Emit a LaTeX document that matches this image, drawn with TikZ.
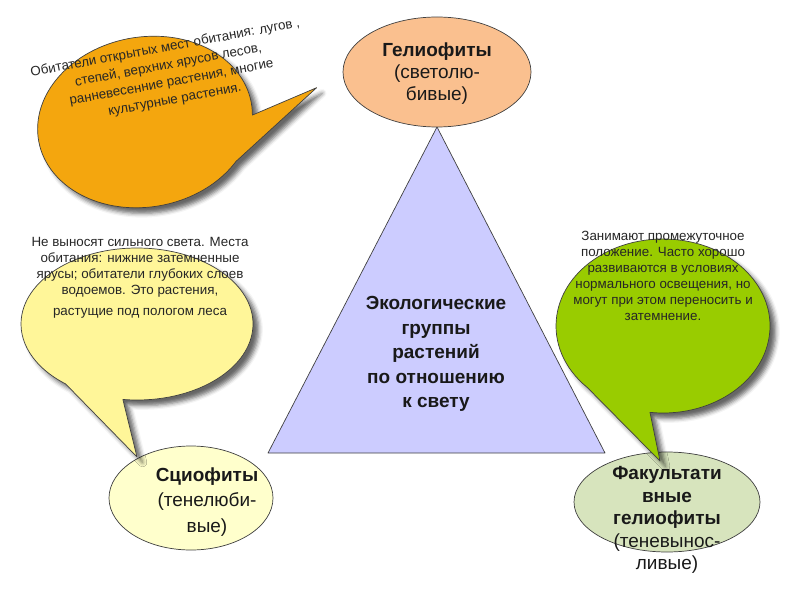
\documentclass[tikz,border=0pt]{standalone}
\usepackage{fontspec}
\setmainfont{Liberation Sans}
\usetikzlibrary{shadows.blur}
\definecolor{orangecall}{RGB}{244,166,14}
\definecolor{peach}{RGB}{250,192,143}
\definecolor{yellowcall}{RGB}{255,246,153}
\definecolor{cream}{RGB}{255,255,204}
\definecolor{greencall}{RGB}{153,204,0}
\definecolor{palegreen}{RGB}{215,228,189}
\definecolor{lavender}{RGB}{204,204,255}
\begin{document}
\begin{tikzpicture}[x=0.025cm, y=0.025cm, line join=round,
	outline/.style={draw=black!75, line width=0.5pt},
	callout/.style={outline, blur shadow={shadow xshift=4pt, shadow yshift=-4pt, shadow blur radius=3pt, shadow opacity=60}},
	calltext/.style={font=\fontsize{9.5}{11.3}\selectfont, align=center, text=black!85},
	bigtext/.style={align=center, text=black!90}]
		\useasboundingbox (0,0) rectangle (800,600);
		\draw[outline, fill=lavender] (268,147) -- (605,147) -- (437,473) -- cycle;
		\node[bigtext, font=\bfseries\fontsize{13.5}{17.4}\selectfont] (groups) at (436,246) {Экологические\\группы\\растений\\по отношению\\к свету};
		\draw[outline, fill=peach] (437,528) ellipse [x radius=94, y radius=55];
		\draw[outline, fill=cream] (191,102) ellipse [x radius=82, y radius=52];
		\draw[outline, fill=palegreen] (667,98) ellipse [x radius=93, y radius=50];
		\node[bigtext, font=\fontsize{13.5}{15.6}\selectfont] (helio) at (437,526) {\textbf{Гелиофиты}\\(светолю-\\бивые)};
		\node[bigtext, font=\fontsize{13.5}{18.2}\selectfont] (scio) at (207,98) {\textbf{Сциофиты}\\(тенелюби-\\вые)};
		\node[bigtext, font=\fontsize{13.5}{16}\selectfont] (facult) at (667,80) {\textbf{Факультати}\\\textbf{вные}\\\textbf{гелиофиты}\\(теневынос-\\ливые)};
		\begin{scope}[shift={(145,478)}, rotate=10]
			\draw[callout, fill=orangecall] (-8:108 and 85) arc[start angle=-8, end angle=320, x radius=108, y radius=85] -- (175,4) -- cycle;
		\end{scope}
		\draw[callout, fill=yellowcall] (137,276) ++(263:116 and 76) arc[start angle=263, end angle=592, x radius=116, y radius=76] -- (137,143) -- cycle;
		\draw[callout, fill=greencall] (663,274) ++(263:107 and 87) arc[start angle=263, end angle=585, x radius=107, y radius=87] -- (660,139) -- cycle;
		\node[calltext, rotate=10.5, font=\fontsize{9.5}{12.5}\selectfont] (opennote) at (170,526) {Обитатели открытых мест обитания: лугов ,\\степей, верхних ярусов лесов,\\ранневесенние растения, многие\\культурные растения.};
		\node[calltext] (shadenote) at (140,322) {Не выносят сильного света. Места\\обитания: нижние затемненные\\ярусы; обитатели глубоких слоев\\водоемов. Это растения,\\[4pt]растущие под пологом леса};
		\node[calltext] (midnote) at (663,324) {Занимают промежуточное\\положение. Часто хорошо\\развиваются в условиях\\нормального освещения, но\\могут при этом переносить и\\затемнение.};
\end{tikzpicture}
\end{document}
